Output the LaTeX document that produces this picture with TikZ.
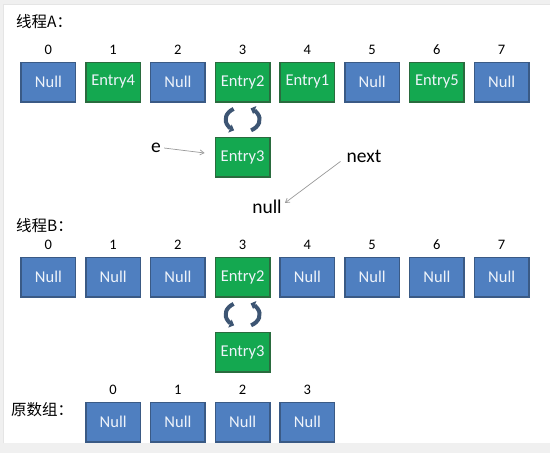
\documentclass[tikz,border=0pt]{standalone}
\usepackage{fontspec}
\setmainfont{Carlito}
\newfontfamily\cjk{Noto Sans CJK SC}
\usetikzlibrary{arrows.meta,calc}
\definecolor{nullfill}{HTML}{4F7FC0}
\definecolor{nullline}{HTML}{3A5A85}
\definecolor{entfill}{HTML}{14A850}
\definecolor{entline}{HTML}{2A6B3E}
\definecolor{boxtext}{HTML}{EEF3FA}
\definecolor{cyccol}{HTML}{3D5573}
\definecolor{ptrcol}{HTML}{9A9A9A}
\tikzset{
  cell/.style={minimum width=54.5pt,minimum height=39.5pt,inner sep=0pt,line width=1.5pt,
    text=boxtext,font=\fontsize{16.5}{16.5}\selectfont},
  nullcell/.style={cell,draw=nullline,fill=nullfill},
  entcell/.style={cell,draw=entline,fill=entfill},
  idx/.style={font=\fontsize{14.5}{14.5}\selectfont,inner sep=0pt},
  heading/.style={font=\cjk\fontsize{15.5}{15.5}\selectfont,inner sep=0pt,anchor=west},
  lbl/.style={font=\fontsize{19.5}{19.5}\selectfont,inner sep=1pt},
  ptr/.style={draw=ptrcol,line width=0.7pt,-{Straight Barb[length=4pt,width=5pt]}},
  cyc/.style={draw=cyccol,line width=4pt,-{Triangle[length=4.5pt,width=8.5pt]}}
}
\begin{document}
\begin{tikzpicture}[x=1pt,y=-1pt]
\useasboundingbox (0,0) rectangle (550,453);
\fill[gray!12] (0,0) rectangle (550,453);
\fill[white] (3,4) rectangle (550,443);
\draw[gray!20,line width=0.6pt] (3,443) -- (3,4) -- (550,4);

% headings
\node[heading] (hA) at (16,22) {线程A：};
\node[heading] (hB) at (16,226) {线程B：};
\node[heading] (hO) at (11,410) {原数组：};

% thread A row
\foreach \i/\t/\s in {0/Null/nullcell,1/Entry4/entcell,2/Null/nullcell,3/Entry2/entcell,
                      4/Entry1/entcell,5/Null/nullcell,6/Entry5/entcell,7/Null/nullcell}{
  \node[\s] (a\i) at ({48.4+64.75*\i},82) {\t};
  \node[idx] (ia\i) at ({48.4+64.75*\i},50) {\i};
}
\node[entcell] (ea) at (242.6,157) {Entry3};

% thread B row
\foreach \i/\t/\s in {0/Null/nullcell,1/Null/nullcell,2/Null/nullcell,3/Entry2/entcell,
                      4/Null/nullcell,5/Null/nullcell,6/Null/nullcell,7/Null/nullcell}{
  \node[\s] (b\i) at ({48.4+64.75*\i},277) {\t};
  \node[idx] (ib\i) at ({48.4+64.75*\i},245) {\i};
}
\node[entcell] (eb) at (242.6,352) {Entry3};

% original array
\foreach \i in {0,1,2,3}{
  \node[nullcell] (o\i) at ({48.4+64.75*(\i+1)},422) {Null};
  \node[idx] (io\i) at ({48.4+64.75*(\i+1)},390) {\i};
}

% cycle arrows
\coordinate (cA) at ($(a3.south)!0.5!(ea.north)$);
\coordinate (cB) at ($(b3.south)!0.5!(eb.north)$);
\foreach \c in {cA,cB}{
  \draw[cyc] (\c) ++(-122:17 and 12.5) arc[start angle=-122,end angle=-240,x radius=17,y radius=12.5];
  \draw[cyc] (\c) ++(60:17 and 12.5) arc[start angle=60,end angle=-62,x radius=17,y radius=12.5];
}

% labels and pointers
\node[lbl] (e) at (156,148) {e};
\node[lbl] (next) at (364,156) {next};
\node[lbl] (null) at (267,207) {null};
\draw[ptr] ([xshift=2pt]e.east) -- ([xshift=-10pt,yshift=4pt]ea.west);
\draw[ptr] ([xshift=-5pt,yshift=2pt]next.south west) -- ([xshift=2pt,yshift=-4pt]null.north east);
\end{tikzpicture}
\end{document}
